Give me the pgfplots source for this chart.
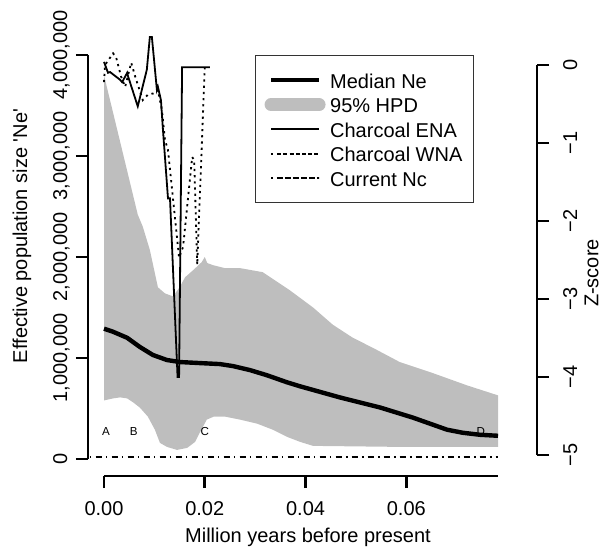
\documentclass[border=0pt]{standalone}
\usepackage{fontspec}
\setmainfont{Liberation Sans}[Ligatures=TeXOff]
\usepackage{pgfplots}
\pgfplotsset{compat=1.18}

\definecolor{hpd}{RGB}{190,190,190}

\pgfplotsset{
  rline/.style={legend image code/.code={%
      \path (-4pt,0pt) -- (20pt,0pt);
      \draw[##1] (0pt,0pt) -- (20pt,0pt);}},
  pill/.style={legend image code/.code={%
      \path (-4pt,0pt) -- (20pt,0pt);
      \draw[##1] (1.5pt,0pt) -- (18.5pt,0pt);}},
  rdotted/.style={dash pattern=on 1.1pt off 2pt},
  rdotdash/.style={dash pattern=on 0.8pt off 2.1pt on 3pt off 2.1pt},
}

\begin{document}
\begin{tikzpicture}
\useasboundingbox (-52pt,-44.5pt) rectangle (254.5pt,229.5pt);

% Ne axis (left)
\begin{axis}[
  at={(0,0)}, anchor=south west,
  scale only axis, width=197pt, height=202pt,
  xmin=0, xmax=0.0782, ymin=0, ymax=4000000,
  clip=false,
  axis x line*=bottom, axis y line*=left,
  axis x line shift=8.5pt, axis y line shift=8pt,
  axis line style={line width=1.35pt},
  tick align=outside, major tick length=6pt,
  tick style={line width=1.35pt, black},
  scaled x ticks=false, scaled y ticks=false,
  xtick={0,0.02,0.04,0.06}, xticklabels={{},{},{},{}},
  ytick={0,1000000,2000000,3000000,4000000}, yticklabels={{},{},{},{},{}},
  legend style={at={(rel axis cs:0.3832,1)}, anchor=north west,
    draw=black!80, line width=0.6pt, fill=white,
    inner xsep=4.5pt, inner ysep=6.25pt, row sep=0.25pt, column sep=1.3pt,
    nodes={inner sep=1pt, text height=9pt, text depth=1pt}},
  legend cell align=left,
]
\addlegendimage{rline, black, line width=2.2pt}
\addlegendimage{pill, hpd, line width=6.5pt, line cap=round}
\addlegendimage{rline, black, line width=0.9pt}
\addlegendimage{rline, black, line width=0.9pt, rdotted}
\addlegendimage{rline, black, line width=0.9pt, rdotdash}

% 95% HPD: upper bound left to right, lower bound right to left
\addplot[fill=hpd, draw=none, forget plot] coordinates {
  (0,3800000) (0.0067,2420000) (0.0077,2300000) (0.0091,2070000)
  (0.0107,1700000) (0.0121,1640000) (0.0137,1610000) (0.0150,1700000)
  (0.0161,1800000) (0.0177,1870000) (0.0194,1950000) (0.0200,2000000)
  (0.0205,1940000) (0.0216,1920000) (0.0240,1890000) (0.0270,1890000)
  (0.0315,1850000) (0.0333,1790000) (0.0369,1670000) (0.0415,1500000)
  (0.0454,1330000) (0.0494,1200000) (0.0534,1100000) (0.0587,960000)
  (0.0653,850000) (0.0720,730000) (0.0782,630000)
  (0.0782,120000) (0.0587,120000) (0.0415,130000) (0.0389,170000)
  (0.0363,220000) (0.0335,290000) (0.0304,350000) (0.0270,390000)
  (0.0240,420000) (0.0218,420000) (0.0204,390000) (0.0190,260000)
  (0.0181,170000) (0.0165,110000) (0.0145,90000) (0.0125,120000)
  (0.0111,160000) (0.0101,290000) (0.0087,420000) (0.0071,510000)
  (0.0058,560000) (0.0046,600000) (0.0032,610000) (0.0018,600000)
  (0,580000)
} -- cycle;

% median Ne
\addplot[black, line width=2.2pt, forget plot] coordinates {
  (0,1290000) (0.0018,1260000) (0.0046,1200000) (0.0071,1110000)
  (0.0097,1030000) (0.0125,980000) (0.0151,960000) (0.0190,950000)
  (0.0230,940000) (0.0256,920000) (0.0290,880000) (0.0323,830000)
  (0.0363,760000) (0.0389,720000) (0.0468,610000) (0.0548,510000)
  (0.0613,410000) (0.0681,290000) (0.0712,260000) (0.0746,240000)
  (0.0782,230000)
};

% current Nc
\addplot[black, line width=0.9pt, rdotdash, forget plot] coordinates {
  (-0.0028,20000) (0.0782,20000)
};

\node[font=\fontsize{5.8}{7}\selectfont] at (axis cs:0.0004,277000) {A};
\node[font=\fontsize{5.8}{7}\selectfont] at (axis cs:0.0059,277000) {B};
\node[font=\fontsize{5.8}{7}\selectfont] at (axis cs:0.0200,277000) {C};
\node[font=\fontsize{5.8}{7}\selectfont] at (axis cs:0.0748,277000) {D};

% tick labels, R style
\node[rotate=90, anchor=base] at ([xshift=-18.5pt]axis cs:0,0) {0};
\node[rotate=90, anchor=base] at ([xshift=-18.5pt]axis cs:0,1000000) {1,000,000};
\node[rotate=90, anchor=base] at ([xshift=-18.5pt]axis cs:0,2000000) {2,000,000};
\node[rotate=90, anchor=base] at ([xshift=-18.5pt]axis cs:0,3000000) {3,000,000};
\node[rotate=90, anchor=base] at ([xshift=-18.5pt]axis cs:0,4000000) {4,000,000};
\node[anchor=base] at ([yshift=-28.35pt]axis cs:0,0) {0.00};
\node[anchor=base] at ([yshift=-28.35pt]axis cs:0.02,0) {0.02};
\node[anchor=base] at ([yshift=-28.35pt]axis cs:0.04,0) {0.04};
\node[anchor=base] at ([yshift=-28.35pt]axis cs:0.06,0) {0.06};

\legend{Median Ne, 95\% HPD, Charcoal ENA, Charcoal WNA, Current Nc}
\end{axis}

% Z-score axis (right)
\begin{axis}[
  at={(0,2pt)}, anchor=south west,
  scale only axis, width=197pt, height=195pt,
  xmin=0, xmax=0.0782, ymin=-5, ymax=0,
  clip=false,
  axis x line=none, axis y line*=right,
  axis y line shift=19.5pt,
  axis line style={line width=1.35pt},
  tick align=outside, major tick length=6pt,
  tick style={line width=1.35pt, black},
  ytick={-5,-4,-3,-2,-1,0}, yticklabels={{},{},{},{},{},{}},
]
% charcoal ENA
\addplot[black, line width=0.9pt] coordinates {
  (0,0.04) (0.0008,-0.10) (0.0012,-0.09) (0.0032,-0.19) (0.0036,-0.22)
  (0.0046,-0.10) (0.0048,-0.15) (0.0067,-0.53) (0.0085,-0.06)
  (0.0091,0.36) (0.0095,0.36) (0.0105,-0.32) (0.0107,-0.28)
  (0.0113,-0.45) (0.0117,-0.83) (0.0127,-1.71) (0.0131,-1.71)
  (0.0146,-4.0) (0.0149,-4.0) (0.0155,-0.03) (0.0210,-0.03)
};
% charcoal WNA
\addplot[black, line width=0.9pt, rdotted] coordinates {
  (0,-0.22) (0.0002,0) (0.0018,0.15) (0.0024,0.10) (0.0034,-0.15)
  (0.0042,-0.28) (0.0054,0.03) (0.0062,-0.15) (0.0077,-0.45)
  (0.0087,-0.38) (0.0101,-0.36) (0.0107,-0.32) (0.0115,-0.58)
  (0.0121,-0.96) (0.0127,-1.09) (0.0149,-2.47) (0.0157,-2.33)
  (0.0175,-1.18) (0.0179,-1.22) (0.0185,-2.56) (0.0200,-0.03)
};
\node[rotate=90, anchor=base] at ([xshift=39.5pt]axis cs:0.0782,-5) {−5};
\node[rotate=90, anchor=base] at ([xshift=39.5pt]axis cs:0.0782,-4) {−4};
\node[rotate=90, anchor=base] at ([xshift=39.5pt]axis cs:0.0782,-3) {−3};
\node[rotate=90, anchor=base] at ([xshift=39.5pt]axis cs:0.0782,-2) {−2};
\node[rotate=90, anchor=base] at ([xshift=39.5pt]axis cs:0.0782,-1) {−1};
\node[rotate=90, anchor=base] at ([xshift=39.5pt]axis cs:0.0782,0) {0};
\end{axis}

\node[rotate=90, anchor=base] at (-38.4pt,111.5pt) {Effective population size 'Ne'};
\node[rotate=90, anchor=base] at (247.2pt,93pt) {Z-score};
\node[anchor=base] at (102pt,-41.5pt) {Million years before present};
\end{tikzpicture}
\end{document}
